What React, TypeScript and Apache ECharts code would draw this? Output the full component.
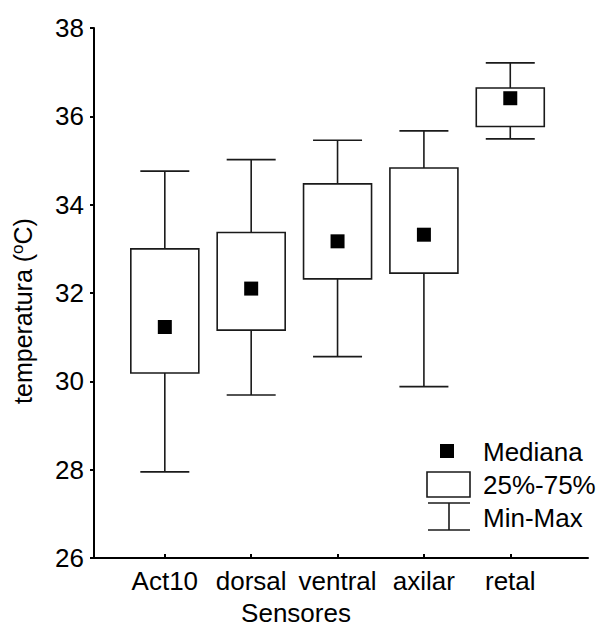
import React, { useEffect, useRef } from "react";
import * as echarts from "echarts";

const categories = ["Act10", "dorsal", "ventral", "axilar", "retal"];
const minValues = [27.95, 29.69, 30.56, 29.88, 35.49];
const q1Values = [30.19, 31.16, 32.32, 32.45, 35.77];
const medianValues = [31.23, 32.1, 33.17, 33.32, 36.41];
const q3Values = [33.0, 33.37, 34.47, 34.83, 36.64];
const maxValues = [34.76, 35.02, 35.46, 35.67, 37.21];
const yTicks = [26, 28, 30, 32, 34, 36, 38];
const legendLabels = ["Mediana", "25%-75%", "Min-Max"];

const FONT = "'Liberation Sans', Arial, sans-serif";
const INK = "#1a1a1a";
const FS = 26;

export default function App() {
  const ref = useRef<HTMLDivElement>(null);
  useEffect(() => {
    if (!ref.current) return;
    const chart = echarts.init(ref.current, undefined, { renderer: "svg" });
    const positions = categories.map((_, i) => i + 1);
    const boxData = positions.map((x, i) => [
      x,
      minValues[i],
      q1Values[i],
      medianValues[i],
      q3Values[i],
      maxValues[i],
    ]);
    const medData = positions.map((x, i) => [x, medianValues[i]]);
    const boxW = 68;
    const capW = 49;
    const lineStyle = { stroke: INK, lineWidth: 1.6, fill: "none" };

    chart.setOption({
      animation: false,
      backgroundColor: "#fff",
      textStyle: { fontFamily: FONT, color: "#000" },
      grid: { left: 94, right: 15, top: 28, bottom: 75 },
      xAxis: {
        type: "value",
        min: 0.18,
        max: 5.9,
        splitLine: { show: false },
        axisLine: { show: true, onZero: false, lineStyle: { color: "#000", width: 2 } },
        axisTick: {
          show: true,
          inside: true,
          length: 4,
          customValues: positions,
          lineStyle: { color: "#000", width: 2 },
        },
        axisLabel: {
          customValues: positions,
          formatter: (v: number) => categories[Math.round(v) - 1] ?? "",
          fontSize: FS,
          fontFamily: FONT,
          color: "#000",
          margin: 10,
        },
        name: "Sensores",
        nameLocation: "middle",
        nameGap: 42,
        nameTextStyle: {
          fontSize: FS,
          fontFamily: FONT,
          color: "#000",
          padding: [0, 90, 0, 0],
        },
      },
      yAxis: {
        type: "value",
        min: yTicks[0],
        max: yTicks[yTicks.length - 1],
        interval: 2,
        splitLine: { show: false },
        axisLine: { show: true, lineStyle: { color: "#000", width: 2 } },
        axisTick: { show: true, inside: false, length: 4, lineStyle: { color: "#000", width: 2 } },
        axisLabel: { fontSize: FS, fontFamily: FONT, color: "#000", margin: 10 },
        name: "temperatura ({sup|o}C)",
        nameLocation: "middle",
        nameRotate: 90,
        nameGap: 58,
        nameTextStyle: {
          fontSize: 25,
          fontFamily: FONT,
          color: "#000",
          padding: [0, 36, 0, 0],
          rich: {
            sup: { fontSize: 17, fontFamily: FONT, color: "#000", verticalAlign: "top", padding: [0, 0, 10, 0] },
          },
        },
      },
      series: [
        {
          type: "custom",
          data: boxData,
          z: 2,
          renderItem: (params: any, api: any) => {
            const x = api.value(0);
            const pMin = api.coord([x, api.value(1)]);
            const pQ1 = api.coord([x, api.value(2)]);
            const pQ3 = api.coord([x, api.value(4)]);
            const pMax = api.coord([x, api.value(5)]);
            const cx = pMin[0];
            return {
              type: "group",
              children: [
                { type: "line", shape: { x1: cx, y1: pMin[1], x2: cx, y2: pQ1[1] }, style: lineStyle },
                { type: "line", shape: { x1: cx, y1: pQ3[1], x2: cx, y2: pMax[1] }, style: lineStyle },
                { type: "line", shape: { x1: cx - capW / 2, y1: pMin[1], x2: cx + capW / 2, y2: pMin[1] }, style: lineStyle },
                { type: "line", shape: { x1: cx - capW / 2, y1: pMax[1], x2: cx + capW / 2, y2: pMax[1] }, style: lineStyle },
                {
                  type: "rect",
                  shape: { x: cx - boxW / 2, y: pQ3[1], width: boxW, height: pQ1[1] - pQ3[1] },
                  style: { fill: "#fff", stroke: INK, lineWidth: 1.6 },
                },
              ],
            };
          },
        },
        {
          type: "scatter",
          data: medData,
          symbol: "rect",
          symbolSize: 14,
          z: 3,
          itemStyle: { color: "#000", opacity: 1 },
        },
      ],
      graphic: [
        { type: "rect", shape: { x: 440, y: 444, width: 14, height: 14 }, style: { fill: "#000" } },
        { type: "rect", shape: { x: 427, y: 472, width: 43, height: 25 }, style: { fill: "#fff", stroke: INK, lineWidth: 1.6 } },
        { type: "line", shape: { x1: 428, y1: 503, x2: 470, y2: 503 }, style: { stroke: INK, lineWidth: 1.6 } },
        { type: "line", shape: { x1: 428, y1: 530, x2: 470, y2: 530 }, style: { stroke: INK, lineWidth: 1.6 } },
        { type: "line", shape: { x1: 449, y1: 503, x2: 449, y2: 530 }, style: { stroke: INK, lineWidth: 1.6 } },
        ...legendLabels.map((t, i) => ({
          type: "text",
          x: 483,
          y: [452, 485, 518][i],
          style: {
            text: t,
            fontSize: FS,
            fontFamily: FONT,
            fill: "#000",
            verticalAlign: "middle",
            align: "left",
          },
        })),
      ],
    });
    return () => chart.dispose();
  }, []);
  return (
    <div
      ref={ref}
      style={{ position: "fixed", left: 0, top: 0, width: 603, height: 633, background: "#fff" }}
    />
  );
}
